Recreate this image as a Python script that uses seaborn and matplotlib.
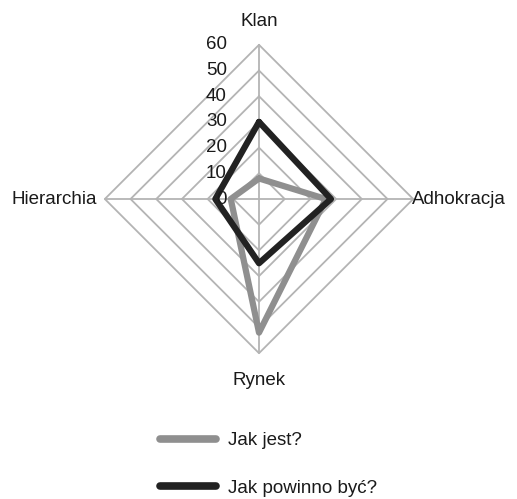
import numpy as np
import pandas as pd
import seaborn as sns
import matplotlib.pyplot as plt
from matplotlib.lines import Line2D

axes_names = ['Klan', 'Adhokracja', 'Rynek', 'Hierarchia']
jak_jest = [8, 26, 52, 11]
jak_powinno = [30, 28, 25, 17]
series_names = ['Jak jest?', 'Jak powinno być?']
ticks = [0, 10, 20, 30, 40, 50, 60]

sns.set_style('white')
plt.rcParams['font.family'] = ['Liberation Sans', 'DejaVu Sans']

# angles: Klan up, then clockwise
angles = np.pi / 2 - np.arange(4) * np.pi / 2

def to_xy(vals):
    v = np.array(list(vals) + [vals[0]], dtype=float)
    a = np.append(angles, angles[0])
    return v * np.cos(a), v * np.sin(a)

rows = []
for name, vals in zip(series_names, [jak_jest, jak_powinno]):
    xs, ys = to_xy(vals)
    for i, (x, y) in enumerate(zip(xs, ys)):
        rows.append({'x': x, 'y': y, 'series': name, 'order': i})
df = pd.DataFrame(rows)

fig = plt.figure(figsize=(5.17, 4.99), dpi=100)
ax = fig.add_axes([0, 0, 1, 1])
ax.set_xlim(-100.8, 100.4)
ax.set_ylim(-116.7, 77.4)
ax.set_aspect('equal')
ax.axis('off')

grid_col = '#b4b4b4'
for r in ticks[1:]:
    gx, gy = to_xy([r] * 4)
    ax.plot(gx, gy, color=grid_col, lw=1.3, zorder=1)
for a in angles:
    ax.plot([0, 60 * np.cos(a)], [0, 60 * np.sin(a)], color=grid_col, lw=1.3, zorder=1)

colors = {'Jak jest?': '#8f8f8f', 'Jak powinno być?': '#222222'}
sns.lineplot(data=df, x='x', y='y', hue='series', palette=colors, units='series',
             estimator=None, sort=False, linewidth=4.5, legend=False, ax=ax, zorder=3)

for t in ticks:
    ax.text(-12.5, t, str(t), ha='right', va='center', fontsize=13.5, color='#1a1a1a', zorder=4)

fs = 13.5
ax.text(0, 69, 'Klan', ha='center', va='center', fontsize=fs, color='#1a1a1a')
ax.text(59.5, 0, 'Adhokracja', ha='left', va='center', fontsize=fs, color='#1a1a1a')
ax.text(0, -70.5, 'Rynek', ha='center', va='center', fontsize=fs, color='#1a1a1a')
ax.text(-63, 0, 'Hierarchia', ha='right', va='center', fontsize=fs, color='#1a1a1a')

handles = [Line2D([0], [0], color=colors[n], lw=5.5, solid_capstyle='round') for n in series_names]
ax.legend(handles, series_names, loc='center left', bbox_to_anchor=(160 / 517, 1 - 464.5 / 499),
          frameon=False, fontsize=fs, handlelength=3.0, handletextpad=0.6,
          labelspacing=1.6, borderpad=0, borderaxespad=0, labelcolor='#1a1a1a')

fig.savefig('out.png', dpi=100)
